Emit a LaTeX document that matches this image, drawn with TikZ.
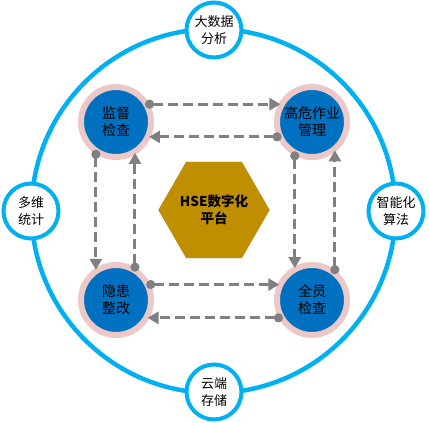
\documentclass[tikz,border=0pt]{standalone}
\usepackage{fontspec}
\setmainfont{Noto Sans CJK SC}
\usetikzlibrary{arrows.meta,shapes.geometric}
\definecolor{cyanring}{RGB}{0,176,240}
\definecolor{nodeblue}{RGB}{0,112,192}
\definecolor{ringpink}{RGB}{236,200,198}
\definecolor{hexgold}{RGB}{191,143,0}
\definecolor{hexglow}{RGB}{226,222,236}
\definecolor{conngray}{RGB}{128,128,128}
\tikzset{
  satnode/.style={circle, draw=cyanring, line width=4pt, fill=white, minimum size=55pt, inner sep=0pt,
    align=center, font=\fontsize{13pt}{17pt}\selectfont},
  mainnode/.style={circle, draw=ringpink, fill=nodeblue, line width=6pt, minimum size=70pt, inner sep=0pt,
    align=center, font=\fontsize{14pt}{17pt}\selectfont},
  conn/.style={draw=conngray, line width=3pt, dash pattern=on 10pt off 5pt,
    {Circle[length=9pt]}-{Triangle[length=11pt,width=12pt]}, shorten <=-4.5pt, shorten >=-2pt},
}
\begin{document}
\begin{tikzpicture}[x=1pt,y=-1pt]
\useasboundingbox (0,0) rectangle (429,423);
% big ring
\node[circle, draw=cyanring, line width=4.5pt, minimum size=364pt, inner sep=0pt] (ring) at (213.5,211) {};
% satellites
\node[satnode] (s1) at (214,30) {大数据\\分析};
\node[satnode] (s2) at (396,211) {智能化\\算法};
\node[satnode] (s3) at (214,392) {云端\\存储};
\node[satnode] (s4) at (31,211) {多维\\统计};
% hexagon
\node[regular polygon, regular polygon sides=6, fill=hexglow, minimum size=112pt, inner sep=0pt] (glow) at (214,210) {};
\node[regular polygon, regular polygon sides=6, fill=hexgold, minimum size=98pt, inner sep=0pt,
  align=center, font=\bfseries\fontsize{13.5pt}{17pt}\selectfont] (hex) at (214,210) {HSE数字化\\平台};
% main nodes
\node[mainnode] (tl) at (116,122) {监督\\检查};
\node[mainnode] (tr) at (312,122) {高危作业\\管理};
\node[mainnode] (bl) at (116,300) {隐患\\整改};
\node[mainnode] (br) at (312,300) {全员\\检查};
% connectors
\draw[conn] (tl.28) -- (tr.152);
\draw[conn] (tr.203) -- (tl.337);
\draw[conn] (tl.238) -- (bl.122);
\draw[conn] (bl.60) -- (tl.300);
\draw[conn] (tr.243) -- (br.117);
\draw[conn] (br.53) -- (tr.307);
\draw[conn] (bl.24) -- (br.156);
\draw[conn] (br.208) -- (bl.332);
\end{tikzpicture}
\end{document}
